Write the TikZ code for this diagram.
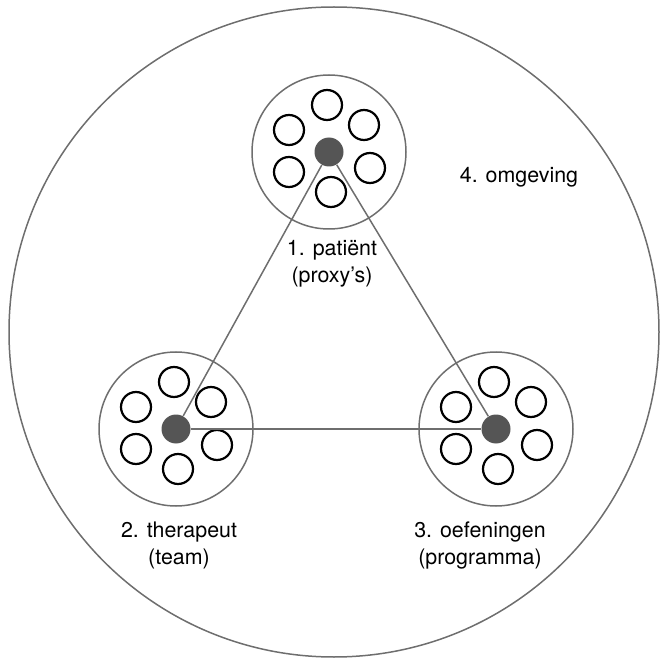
\documentclass[tikz,border=0pt]{standalone}
\usepackage{fontspec}
\setmainfont{TeX Gyre Heros}
\definecolor{linegray}{RGB}{110,110,110}
\definecolor{dotgray}{RGB}{85,85,85}
\begin{document}
\begin{tikzpicture}[x=0.5pt,y=-0.5pt,
  ring/.style={circle,draw=linegray,line width=0.75pt,minimum size=77pt,inner sep=0pt},
  smallc/.style={circle,draw=black,line width=1.1pt,fill=white,minimum size=15pt,inner sep=0pt},
  dotc/.style={circle,fill=dotgray,minimum size=14.5pt,inner sep=0pt},
  conn/.style={draw=linegray,line width=0.75pt},
  lbl/.style={font=\fontsize{10.7pt}{13.5pt}\selectfont,align=center,inner sep=0pt}]
\useasboundingbox (0,0) rectangle (665,658);
\node[circle,draw=linegray,line width=0.75pt,minimum size=325pt,inner sep=0pt] (env) at (334,332) {};
\foreach \n/\cx/\cy in {p/329/152, t/176/429, o/496/429} {
  \node[ring] (\n) at (\cx,\cy) {};
  \foreach \i/\dx/\dy in {1/-2/-47, 2/-40/-22, 3/35/-27, 4/-40/20, 5/41/16, 6/2/40} {
    \node[smallc] (\n\i) at (\cx+\dx,\cy+\dy) {};
  }
  \node[dotc] (\n d) at (\cx,\cy) {};
}
\draw[conn] (pd) -- (td);
\draw[conn] (pd) -- (od);
\draw[conn] (td) -- (od);
\node[lbl] (lp) at (332,264) {1. patiënt\\(proxy’s)};
\node[lbl] (lt) at (179,545) {2. therapeut\\(team)};
\node[lbl] (lo) at (480,545) {3. oefeningen\\(programma)};
\node[lbl] (le) at (519,177) {4. omgeving};
\end{tikzpicture}
\end{document}
